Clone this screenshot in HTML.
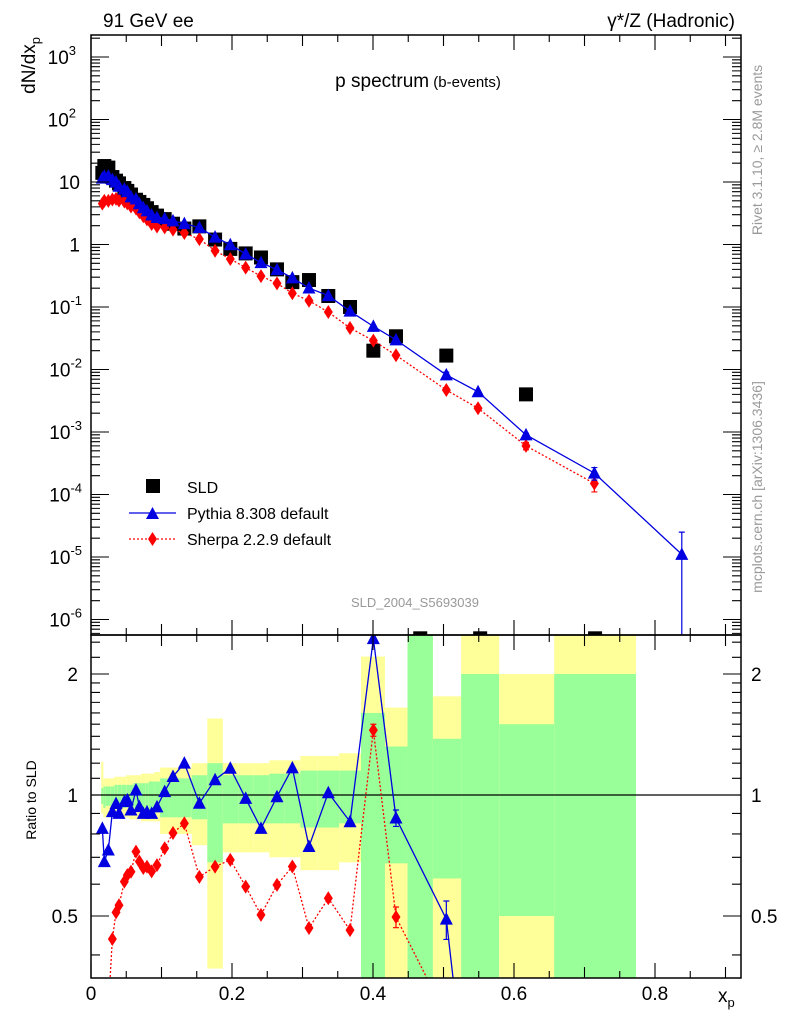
<!DOCTYPE html>
<html><head><meta charset="utf-8">
<style>
html,body{margin:0;padding:0;background:#fff;width:786px;height:1024px;overflow:hidden;}
svg{display:block;font-family:"Liberation Sans",Arial,sans-serif;}
</style></head>
<body>
<svg id="chart" width="786" height="1024" viewBox="0 0 786 1024" xmlns="http://www.w3.org/2000/svg">
<defs>
<clipPath id="cm"><rect x="91" y="35" width="650" height="600"/></clipPath>
<clipPath id="cr"><rect x="91" y="635" width="650" height="343"/></clipPath>
</defs>
<rect x="0" y="0" width="786" height="1024" fill="#fff"/>
<g id="bands" clip-path="url(#cr)"></g>
<g id="main" clip-path="url(#cm)"></g>
<g id="ratio" clip-path="url(#cr)"></g>
<g id="axes"></g>
<text x="103" y="27" font-size="19">91 GeV ee</text>
<text x="735" y="27" font-size="19" text-anchor="end">γ*/Z (Hadronic)</text>
<text x="418" y="87" text-anchor="middle"><tspan font-size="19">p spectrum</tspan><tspan font-size="15"> (b-events)</tspan></text>
<text transform="translate(35,37) rotate(-90)" font-size="19" text-anchor="end">dN/dx<tspan font-size="13" dy="5">p</tspan></text>
<text transform="translate(36,800) rotate(-90)" font-size="14" text-anchor="middle">Ratio to SLD</text>
<text x="718" y="1002" font-size="19">x<tspan font-size="13" dy="5">p</tspan></text>
<text transform="translate(762,150) rotate(-90)" font-size="14" fill="#999" text-anchor="middle">Rivet 3.1.10, ≥ 2.8M events</text>
<text transform="translate(762,487) rotate(-90)" font-size="14" fill="#999" text-anchor="middle">mcplots.cern.ch [arXiv:1306.3436]</text>
<text x="415" y="607" font-size="13" fill="#999" text-anchor="middle">SLD_2004_S5693039</text>
<g>
<rect x="146" y="479" width="14" height="14" fill="#000"/>
<text x="187" y="493" font-size="16">SLD</text>
<line x1="129" y1="513" x2="176" y2="513" stroke="#0000e0" stroke-width="1.3"/>
<path d="M146,519 L159,519 L152.5,507 Z" fill="#0000e0"/>
<text x="187" y="519" font-size="16">Pythia 8.308 default</text>
<line x1="129" y1="539" x2="176" y2="539" stroke="#f00" stroke-width="1.3" stroke-dasharray="2,2"/>
<path d="M152.5,532 L157,539 L152.5,546 L148,539 Z" fill="#f00"/>
<text x="187" y="545" font-size="16">Sherpa 2.2.9 default</text>
</g>
</svg>
<script>
// ---- data ----
const sldX = [0.0161,0.0189,0.0246,0.0303,0.0355,0.0397,0.0473,0.0515,0.0567,0.0638,0.0686,0.0742,0.0794,0.086,0.0936,0.1045,0.1163,0.1324,0.1537,0.176,0.1976,0.2194,0.2411,0.2638,0.2856,0.3092,0.3366,0.3674,0.4005,0.4326,0.467,0.504,0.552,0.617,0.715];
const sldY = [14,18,17,12,10.5,9.5,8,7.2,6.3,5.2,4.8,4.3,3.8,3.3,2.9,2.55,2.15,1.8,1.95,1.2,0.85,0.72,0.62,0.4,0.25,0.27,0.15,0.1,0.02,0.034,5e-7,0.0167,5e-7,0.004,5e-7];
const mcX = [0.0161,0.0189,0.0246,0.0303,0.0355,0.0397,0.0473,0.0515,0.0567,0.0638,0.0686,0.0742,0.0794,0.086,0.0936,0.1045,0.1163,0.1324,0.1537,0.176,0.1976,0.2194,0.2411,0.2638,0.2856,0.3092,0.3366,0.3674,0.4005,0.4326,0.504,0.549,0.617,0.714,0.838];
const pythiaY = [11.56,12.29,12.41,10.91,10.0,8.55,7.70,7.0,5.78,5.35,4.49,3.87,3.45,2.97,2.71,2.60,2.39,2.16,1.86,1.31,0.991,0.706,0.512,0.396,0.292,0.201,0.152,0.0858,0.049,0.0298,0.0082,0.0044,0.0009,0.00022,1.1e-5];
const pythiaErr = [0,0,0,0,0,0,0,0,0,0,0,0,0,0,0,0,0,0,0,0,0,0,0,0,0,0,0,0,0,0.0014,0.0009,0,0.00005,0.00005,1.4e-5];
const sherpaY = [4.5,5.0,5.0,5.26,5.36,5.05,4.87,4.55,4.06,3.76,3.28,2.83,2.52,2.13,1.94,1.88,1.73,1.53,1.22,0.796,0.586,0.426,0.312,0.239,0.166,0.126,0.083,0.0461,0.029,0.0169,0.0047,0.0024,0.0006,0.00015];
const sherpaErr = [0,0,0,0,0,0,0,0,0,0,0,0,0,0,0,0,0,0,0,0,0,0,0,0,0,0,0,0,0.001,0.001,0,0,0.00008,0.00004];
const binEdges = [0.0145,0.0175,0.021,0.028,0.033,0.038,0.043,0.05,0.054,0.06,0.066,0.071,0.077,0.082,0.09,0.098,0.11,0.122,0.143,0.165,0.187,0.209,0.231,0.253,0.275,0.297,0.321,0.352,0.383,0.417,0.449,0.485,0.525,0.579,0.657,0.773];
const greenLo = [0.95,0.93,0.94,0.94,0.94,0.94,0.93,0.93,0.93,0.93,0.93,0.92,0.92,0.92,0.92,0.88,0.88,0.88,0.87,0.68,0.85,0.85,0.85,0.85,0.85,0.83,0.83,0.85,0.3,0.676,0.3,0.62,0.3,0.5,0.3];
const greenHi = [1.04,1.05,1.05,1.05,1.06,1.06,1.06,1.06,1.06,1.07,1.07,1.07,1.07,1.08,1.08,1.10,1.10,1.10,1.12,1.20,1.12,1.12,1.12,1.13,1.13,1.15,1.15,1.15,1.6,1.32,2.6,1.38,2.0,1.5,2.0];
const yellowLo = [0.90,0.88,0.88,0.88,0.88,0.88,0.88,0.88,0.87,0.87,0.87,0.86,0.86,0.86,0.86,0.80,0.80,0.80,0.75,0.37,0.72,0.72,0.72,0.70,0.70,0.65,0.65,0.68,0.3,0.3,0.3,0.3,0.3,0.3,0.3];
const yellowHi = [1.21,1.10,1.10,1.10,1.11,1.11,1.11,1.12,1.12,1.12,1.12,1.13,1.13,1.13,1.14,1.17,1.17,1.17,1.20,1.55,1.20,1.20,1.20,1.22,1.22,1.25,1.25,1.27,2.21,1.65,2.6,1.76,2.6,2.0,2.6];
const mainTickLabels = ["10^3","10^2","10","1","10^-1","10^-2","10^-3","10^-4","10^-5","10^-6"];
const mainTickValues = [1e3,1e2,10,1,0.1,0.01,1e-3,1e-4,1e-5,1e-6];
const ratioTickValues = [0.5,1,2];
const ratioTickLabels = ["0.5","1","2"];
const xTickValues = [0,0.2,0.4,0.6,0.8];
const xTickLabels = ["0","0.2","0.4","0.6","0.8"];

// ---- scales ----
const X0=91, X1=741, MT=35, MB=635, RB=978;
const X = x => 91 + x*705;
const Y = v => 244.5 - 62.5*Math.log10(v);
const R = r => 795 - 121*Math.log2(r);
const NS="http://www.w3.org/2000/svg";
function mk(tag, attrs, parent){const e=document.createElementNS(NS,tag);for(const k in attrs)e.setAttribute(k,attrs[k]);parent.appendChild(e);return e;}
const gMain=document.getElementById('main'), gRatio=document.getElementById('ratio'), gBands=document.getElementById('bands'), gAx=document.getElementById('axes');
const BLUE="#0000e0", RED="#f00";

for(let i=0;i<binEdges.length-1;i++){
  const x1=X(binEdges[i]), x2=X(binEdges[i+1]);
  const y=mk('rect',{x:x1,y:R(yellowHi[i]),width:x2-x1,height:R(yellowLo[i])-R(yellowHi[i]),fill:"#ffff99"},gBands);
  
  
  const g=mk('rect',{x:x1,y:R(greenHi[i]),width:x2-x1,height:R(greenLo[i])-R(greenHi[i]),fill:"#99ff99"},gBands);
  
  
}
const one=mk('line',{x1:X0,x2:X1,y1:R(1),y2:R(1),stroke:"#000","stroke-width":1.2},gRatio);



function ratioOf(x,v){
  let best=-1, bd=1;
  for(let j=0;j<sldX.length;j++){ const dd=Math.abs(sldX[j]-x); if(dd<bd){bd=dd;best=j;} }
  if(best<0 || bd>0.004) return 0.1;
  return sldY[best]>1e-6 ? v/sldY[best] : 0.1;
}
function tri(g,cx,cy,name){const p=mk('path',{d:`M${cx-6.5},${cy+5.5} L${cx+6.5},${cy+5.5} L${cx},${cy-7} Z`,fill:BLUE},g);}
function dia(g,cx,cy,name){const p=mk('path',{d:`M${cx},${cy-7} L${cx+4.5},${cy} L${cx},${cy+7} L${cx-4.5},${cy} Z`,fill:RED},g);}
function errbar(g,cx,y1,y2,col,name){const l=mk('path',{d:`M${cx},${y1} L${cx},${y2} M${cx-3},${y1} L${cx+3},${y1} M${cx-3},${y2} L${cx+3},${y2}`,stroke:col,"stroke-width":1.2,fill:"none"},g);}

sldX.forEach((x,i)=>{
  const r=mk('rect',{x:X(x)-7,y:Y(sldY[i])-7,width:14,height:14,fill:"#000"},gMain);
  
  
});
{
  const pts=mcX.slice(0,sherpaY.length).map((x,i)=>`${X(x)},${Y(sherpaY[i])}`).join(' ');
  const pl=mk('polyline',{points:pts,fill:"none",stroke:RED,"stroke-width":1.3,"stroke-dasharray":"2,2"},gMain);
  
  
  sherpaY.forEach((v,i)=>{ if(sherpaErr[i]>0) errbar(gMain,X(mcX[i]),Y(v+sherpaErr[i]),Y(Math.max(v-sherpaErr[i],1e-9)),RED,'sherpa-error-bar'); dia(gMain,X(mcX[i]),Y(v),'sherpa-point'); });
  const rp=mcX.slice(0,sherpaY.length).map((x,i)=>`${X(x)},${R(ratioOf(x,sherpaY[i]))}`).join(' ');
  const rl=mk('polyline',{points:rp,fill:"none",stroke:RED,"stroke-width":1.3,"stroke-dasharray":"2,2"},gRatio);
  
  
  sherpaY.forEach((v,i)=>{const r=ratioOf(mcX[i],v); if(sherpaErr[i]>0 && r>0.2) errbar(gRatio,X(mcX[i]),R(r*(1+sherpaErr[i]/v)),R(r*(1-sherpaErr[i]/v)),RED,'sherpa-ratio-error'); dia(gRatio,X(mcX[i]),R(r),'sherpa-ratio-point');});
}
{
  const pts=mcX.map((x,i)=>`${X(x)},${Y(pythiaY[i])}`).join(' ');
  const pl=mk('polyline',{points:pts,fill:"none",stroke:BLUE,"stroke-width":1.3},gMain);
  
  
  pythiaY.forEach((v,i)=>{ if(pythiaErr[i]>0) errbar(gMain,X(mcX[i]),Y(v+pythiaErr[i]),Y(Math.max(v-pythiaErr[i],1e-9)),BLUE,'pythia-error-bar'); tri(gMain,X(mcX[i]),Y(v),'pythia-point'); });
  const rp=mcX.map((x,i)=>`${X(x)},${R(ratioOf(x,pythiaY[i]))}`).join(' ');
  const rl=mk('polyline',{points:rp,fill:"none",stroke:BLUE,"stroke-width":1.3},gRatio);
  
  
  pythiaY.forEach((v,i)=>{const r=ratioOf(mcX[i],v); if(pythiaErr[i]>0 && r>0.2) errbar(gRatio,X(mcX[i]),R(r*(1+pythiaErr[i]/v)),R(r*(1-pythiaErr[i]/v)),BLUE,'pythia-ratio-error'); tri(gRatio,X(mcX[i]),R(r),'pythia-ratio-point');});
}

const f1=mk('rect',{x:X0,y:MT,width:X1-X0,height:MB-MT,fill:"none",stroke:"#000","stroke-width":1.5},gAx);


const f2=mk('rect',{x:X0,y:MB,width:X1-X0,height:RB-MB,fill:"none",stroke:"#000","stroke-width":1.5},gAx);



let d="";
for(let e=-7;e<=3;e++){
  for(let m=1;m<=9;m++){
    const v=m*Math.pow(10,e), y=Y(v);
    if(y<MT||y>MB) continue;
    const L=m===1?18:9;
    d+=`M${X0},${y}h${L}M${X1},${y}h${-L}`;
  }
}
for(let k=3;k<=25;k++){
  const r=k/10, y=R(r); if(y<MB||y>RB) continue;
  if(r>2 && k%2) continue;
  const major=(k===5||k===10||k===20), L=major?18:9;
  d+=`M${X0},${y}h${L}M${X1},${y}h${-L}`;
}
for(let k=0;k<=18;k++){
  const x=X(k*0.05); if(x>X1) continue;
  const L=(k%4===0)?15:(k%2===0?11:7);
  d+=`M${x},${MT}v${L}M${x},${MB}v${L}M${x},${RB}v${-L}M${x},${MB}v${-L}`;
}
const tk=mk('path',{d:d,stroke:"#000","stroke-width":1.1,fill:"none"},gAx);



mainTickValues.forEach((v,i)=>{
  const parts=mainTickLabels[i].split('^');
  const t=mk('text',{x:parts.length>1?76:80,y:Y(v)+7,"font-size":19,"text-anchor":"end"},gAx);
  
  
  t.textContent=parts[0];
  if(parts.length>1){
    const s=mk('tspan',{"font-size":13,dy:-9},t); s.textContent=parts[1];
    t.setAttribute('x', 76 + (parts[1].length>1?6:0));
  }
});
ratioTickValues.forEach((v,i)=>{
  const a=mk('text',{x:78,y:R(v)+7,"font-size":19,"text-anchor":"end"},gAx);
  
  
  a.textContent=ratioTickLabels[i];
  const b=mk('text',{x:751,y:R(v)+7,"font-size":19},gAx);
  
  
  b.textContent=ratioTickLabels[i];
});
xTickValues.forEach((v,i)=>{
  const t=mk('text',{x:X(v),y:1000,"font-size":19,"text-anchor":"middle"},gAx);
  
  
  t.textContent=xTickLabels[i];
});
</script>
</body></html>
